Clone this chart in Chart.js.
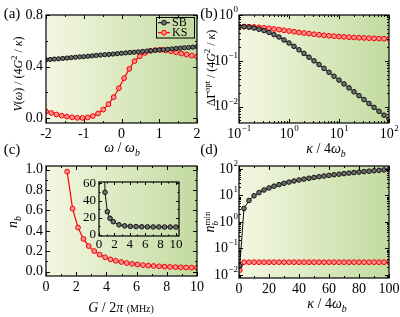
<!DOCTYPE html>
<html><head><meta charset="utf-8">
<script src="https://cdn.jsdelivr.net/npm/chart.js@4"></script>
<style>
html,body{margin:0;padding:0;background:#fff;}
#wrap{position:relative;width:400px;height:317px;overflow:hidden;font-family:'Liberation Serif','Times New Roman',serif;color:#000;}
canvas{position:absolute;left:0;top:0;}
.t{position:absolute;white-space:nowrap;transform:translate(-50%,-50%);font-size:14px;line-height:1;}
.r{transform:translate(-50%,-50%) rotate(-90deg);}
.t sub,.t sup{font-size:70%;line-height:0;}
.pl{font-size:15px;}
.ss{display:inline-block;vertical-align:middle;line-height:0.9;font-size:9px;text-align:left;}
</style></head><body><div id="wrap">
<canvas id="ca" width="400" height="317"></canvas>
<canvas id="cb" width="400" height="317"></canvas>
<canvas id="cc" width="400" height="317"></canvas>
<canvas id="ci" width="400" height="317"></canvas>
<canvas id="cd" width="400" height="317"></canvas>
<div class="t pl" style="left:12px;top:13px">(a)</div>
<div class="t pl" style="left:209px;top:13px">(b)</div>
<div class="t pl" style="left:12px;top:149px">(c)</div>
<div class="t pl" style="left:209px;top:149px">(d)</div>
<div class="t" style="left:122px;top:148px"><i>ω</i> / <i>ω</i><sub><i>b</i></sub></div>
<div class="t" style="left:326px;top:149px"><i>κ</i> / 4<i>ω</i><sub><i>b</i></sub></div>
<div class="t" style="left:121px;top:308px"><i>G</i> / 2<i>π</i> <span style="font-size:10px">(MHz)</span></div>
<div class="t" style="left:327px;top:304px"><i>κ</i> / 4<i>ω</i><sub><i>b</i></sub></div>
<div class="t r" style="left:18px;top:74px;font-size:12px"><i>V</i>(<i>ω</i>) / (4<i>G</i><sup>2</sup> / <i>κ</i>)</div>
<div class="t r" style="left:211px;top:68px;font-size:12px">ΔΓ<sup>opt</sup> / (4<i>G</i><sup>2</sup> / <i>κ</i>)</div>
<div class="t r" style="left:13px;top:222px"><i>n</i><sub><i>b</i></sub></div>
<div class="t r" style="left:211px;top:222px"><i>n</i><span class="ss">min<br><i>b</i></span></div>
</div>
<script>
// ---------- DATA ----------
// (a) V(omega)
const omegaKS = [-2,-1.862,-1.724,-1.586,-1.448,-1.310,-1.172,-1.034,-0.897,-0.759,-0.621,-0.483,-0.345,-0.207,-0.069,0.069,0.207,0.345,0.483,0.621,0.759,0.897,1.034,1.172,1.310,1.448,1.586,1.724,1.862,2];
const vKS = [0.052,0.040,0.028,0.019,0.012,0.006,0.002,0.001,0.005,0.016,0.036,0.066,0.108,0.162,0.232,0.310,0.382,0.442,0.480,0.506,0.522,0.528,0.529,0.525,0.518,0.510,0.501,0.493,0.485,0.477];
const omegaSB = [-2,-1.889,-1.778,-1.667,-1.556,-1.444,-1.333,-1.222,-1.111,-1,-0.889,-0.778,-0.667,-0.556,-0.444,-0.333,-0.222,-0.111,0,0.111,0.222,0.333,0.444,0.556,0.667,0.778,0.889,1,1.111,1.222,1.333,1.444,1.556,1.667,1.778,1.889,2];
const vSB = [0.452,0.455,0.458,0.460,0.463,0.466,0.469,0.472,0.475,0.477,0.480,0.483,0.486,0.489,0.492,0.494,0.497,0.500,0.503,0.506,0.509,0.511,0.514,0.517,0.520,0.523,0.526,0.529,0.531,0.534,0.537,0.540,0.543,0.546,0.548,0.551,0.554];
// (b) Delta Gamma^opt
const kappaB = [0.1,0.1259,0.1585,0.1995,0.2512,0.3162,0.3981,0.5012,0.631,0.7943,1,1.259,1.585,1.995,2.512,3.162,3.981,5.012,6.31,7.943,10,12.59,15.85,19.95,25.12,31.62,39.81,50.12,63.1,79.43,100];
const gSB = [0.562,0.556,0.543,0.519,0.490,0.457,0.417,0.372,0.331,0.285,0.245,0.207,0.174,0.145,0.120,0.100,0.0832,0.0684,0.0562,0.0462,0.0380,0.0313,0.0257,0.0211,0.0174,0.0143,0.0117,0.00966,0.00794,0.00653,0.00537];
const gKS = [0.562,0.560,0.555,0.547,0.537,0.525,0.511,0.495,0.480,0.463,0.447,0.432,0.417,0.404,0.392,0.380,0.370,0.361,0.352,0.345,0.339,0.333,0.328,0.324,0.319,0.316,0.312,0.309,0.306,0.304,0.302];
// (c) n_b vs G
const gC = [1.40,1.76,2.12,2.48,2.83,3.19,3.55,3.91,4.27,4.62,4.98,5.34,5.70,6.06,6.42,6.77,7.13,7.49,7.85,8.21,8.57,8.92,9.28,9.64,10.0];
const nbKS = [0.98,0.617,0.432,0.321,0.251,0.202,0.167,0.141,0.121,0.107,0.095,0.085,0.077,0.070,0.065,0.060,0.056,0.053,0.050,0.047,0.045,0.043,0.0415,0.040,0.0385];
// (c) inset
const gInset = [0.55,0.78,1.08,1.43,1.86,2.6,3.34,4.08,4.82,5.56,6.3,7.04,7.78,8.52,9.26,10.0];
const nbSB = [150,49.5,27,19.4,15.4,11.8,10.6,10.0,9.7,9.5,9.4,9.3,9.3,9.2,9.2,9.2];
// (d) n_b^min
const kappaD = [0.5,3.33,6.67,10,13.33,16.67,20,23.33,26.67,30,33.33,36.67,40,43.33,46.67,50,53.33,56.67,60,63.33,66.67,70,73.33,76.67,80,83.33,86.67,90,93.33,96.67,100];
const nminSB = [0.022,3.2,6.4,9.6,12.7,15.9,19.0,22.2,25.3,28.5,31.6,34.8,37.9,41.0,44.2,47.3,50.4,53.6,56.7,59.8,62.9,66.0,69.2,72.3,75.4,78.5,81.6,84.7,87.8,90.9,94.0];
const nminKS = [0.015,0.030,0.030,0.030,0.030,0.030,0.030,0.030,0.030,0.030,0.030,0.030,0.030,0.030,0.030,0.030,0.030,0.030,0.030,0.030,0.030,0.030,0.030,0.030,0.030,0.030,0.030,0.030,0.030,0.030,0.030];
// tick labels
const aXTicks = [-2,-1,0,1,2], aXLabels = ['-2','-1','0','1','2'];
const aYTicks = [0,0.4,0.8], aYLabels = ['0.0','0.4','0.8'];
const bXTicks = [0.1,1,10,100], bXExp = [-1,0,1,2];
const bYTicks = [0.01,0.1,1], bYExp = [-2,-1,0];
const cXTicks = [0,2,4,6,8,10], cXLabels = ['0','2','4','6','8','10'];
const cYTicks = [0,0.2,0.4,0.6,0.8,1.0], cYLabels = ['0.0','0.2','0.4','0.6','0.8','1.0'];
const iXTicks = [0,2,4,6,8,10], iXLabels = ['0','2','4','6','8','10'];
const iYTicks = [0,20,40,60], iYLabels = ['0','20','40','60'];
const dXTicks = [0,20,40,60,80,100], dXLabels = ['0','20','40','60','80','100'];
const dYTicks = [0.01,0.1,1,10,100], dYExp = [-2,-1,0,1,2];

// ---------- helpers ----------
const FONT = '"Liberation Serif","Times New Roman",serif';
function xy(xs, ys){ return xs.map((x,i)=>({x:x,y:ys[i]})); }
function logMinor(lo, hi){ const out=[]; for(let d=Math.floor(Math.log10(lo)); d<=Math.ceil(Math.log10(hi)); d++){ for(let m=2;m<=9;m++){ const v=m*Math.pow(10,d); if(v>lo && v<hi) out.push(v);} } return out; }
function drawPow(ctx, e, x, y, mode, size){
  const base='10', ex = e<0 ? '\u2212'+(-e) : ''+e;
  ctx.font = size+'px '+FONT; const wb = ctx.measureText(base).width;
  const es = Math.round(size*0.65);
  ctx.font = es+'px '+FONT; const we = ctx.measureText(ex).width;
  let x0 = mode==='right' ? x - wb - we - 0.5 : x - (wb+we)/2;
  ctx.textAlign='left'; ctx.textBaseline='middle';
  ctx.font = size+'px '+FONT; ctx.fillText(base, x0, y);
  ctx.font = es+'px '+FONT; ctx.fillText(ex, x0+wb+0.5, y-size*0.38);
}
function panelPlugin(cfg){
  return {
    id:'panel',
    beforeDatasetsDraw(chart){
      if(!cfg.bg) return;
      const a=chart.chartArea, ctx=chart.ctx;
      const g=ctx.createLinearGradient(a.left,0,a.right,0);
      g.addColorStop(0,'#f4f7e2'); g.addColorStop(1,'#c2dba0');
      ctx.save(); ctx.fillStyle=g; ctx.fillRect(a.left,a.top,a.right-a.left,a.bottom-a.top); ctx.restore();
    },
    afterDatasetsDraw(chart){
      const a=chart.chartArea, ctx=chart.ctx, xs=chart.scales.x, ys=chart.scales.y;
      ctx.save();
      ctx.strokeStyle='#000'; ctx.lineWidth=1;
      const L=cfg.tickLen||4, l=(cfg.tickLen||4)/2;
      ctx.beginPath();
      const xt=(v,len)=>{ const p=Math.round(xs.getPixelForValue(v))+0.5; ctx.moveTo(p,a.bottom); ctx.lineTo(p,a.bottom-len); ctx.moveTo(p,a.top); ctx.lineTo(p,a.top+len); };
      const yt=(v,len)=>{ const p=Math.round(ys.getPixelForValue(v))+0.5; ctx.moveTo(a.left,p); ctx.lineTo(a.left+len,p); ctx.moveTo(a.right,p); ctx.lineTo(a.right-len,p); };
      cfg.xMajor.forEach(v=>xt(v,L)); (cfg.xMinor||[]).forEach(v=>xt(v,l));
      cfg.yMajor.forEach(v=>yt(v,L)); (cfg.yMinor||[]).forEach(v=>yt(v,l));
      ctx.stroke();
      ctx.lineWidth=1.2;
      ctx.strokeRect(a.left,a.top,a.right-a.left,a.bottom-a.top);
      ctx.fillStyle='#000';
      const fs=cfg.fontSize||14;
      cfg.xMajor.forEach((v,i)=>{
        const p=xs.getPixelForValue(v), y=a.bottom+(cfg.xGap||4)+fs/2;
        if(cfg.xExp) drawPow(ctx,cfg.xExp[i],p,y,'center',fs);
        else { ctx.font=fs+'px '+FONT; ctx.textAlign='center'; ctx.textBaseline='middle'; ctx.fillText(cfg.xLabels[i],p,y); }
      });
      cfg.yMajor.forEach((v,i)=>{
        const p=ys.getPixelForValue(v), x=a.left-(cfg.yGap||3);
        if(cfg.yExp) drawPow(ctx,cfg.yExp[i],x,p,'right',fs);
        else { ctx.font=fs+'px '+FONT; ctx.textAlign='right'; ctx.textBaseline='middle'; ctx.fillText(cfg.yLabels[i],x,p); }
      });
      if(cfg.legend) cfg.legend(ctx);
      ctx.restore();
    }
  };
}
const BLK={borderColor:'#111',borderWidth:1,pointRadius:2.3,pointBorderWidth:1,pointBorderColor:'#111',pointBackgroundColor:'#707070'};
const RED={borderColor:'#ff0000',borderWidth:1.2,pointRadius:2.4,pointBorderWidth:1,pointBorderColor:'#f00000',pointBackgroundColor:'#ff9090'};
function makeChart(id, area, xScale, yScale, datasets, cfg){
  return new Chart(document.getElementById(id), {
    type:'line',
    data:{datasets:datasets},
    options:{
      responsive:false, animation:false, devicePixelRatio:1, events:[],
      layout:{padding:{left:area[0],top:area[1],right:400-area[2],bottom:317-area[3]}},
      plugins:{legend:{display:false},tooltip:{enabled:false}},
      elements:{line:{tension:0}},
      scales:{x:Object.assign({display:false},xScale), y:Object.assign({display:false},yScale)}
    },
    plugins:[panelPlugin(cfg)]
  });
}
// (a)
makeChart('ca',[46,15,197,123],{type:'linear',min:-2,max:2},{type:'linear',min:-0.038,max:0.8},
  [Object.assign({data:xy(omegaSB,vSB)},BLK,{pointRadius:2.1}), Object.assign({data:xy(omegaKS,vKS)},RED)],
  {bg:true,xMajor:aXTicks,xMinor:[-1.5,-0.5,0.5,1.5],xLabels:aXLabels,yMajor:aYTicks,yMinor:[0.2,0.6],yLabels:aYLabels,
   legend:(ctx)=>{
     ctx.lineWidth=1; ctx.strokeStyle='#000'; ctx.strokeRect(156.5,17.5,38,20.5);
     const item=(y,c,f,b,t)=>{ ctx.strokeStyle=c; ctx.lineWidth=1.2; ctx.beginPath(); ctx.moveTo(158,y); ctx.lineTo(170,y); ctx.stroke();
       ctx.beginPath(); ctx.arc(164,y,2.4,0,Math.PI*2); ctx.fillStyle=f; ctx.fill(); ctx.strokeStyle=b; ctx.lineWidth=1; ctx.stroke();
       ctx.fillStyle='#000'; ctx.font='12px '+FONT; ctx.textAlign='left'; ctx.textBaseline='middle'; ctx.fillText(t,172,y+0.5); };
     item(22.7,'#111','#707070','#111','SB'); item(32.7,'#ff0000','#ff9090','#f00000','KS');
   }});
// (b)
makeChart('cb',[239,15,389,123],{type:'logarithmic',min:0.1,max:100},{type:'logarithmic',min:0.0044,max:1},
  [Object.assign({data:xy(kappaB,gSB)},BLK), Object.assign({data:xy(kappaB,gKS)},RED)],
  {bg:true,xMajor:bXTicks,xMinor:logMinor(0.1,100),xExp:bXExp,yMajor:bYTicks,yMinor:logMinor(0.0044,1),yExp:bYExp,yGap:1});
// (c)
makeChart('cc',[46,166,197,276],{type:'linear',min:0,max:10},{type:'linear',min:-0.042,max:1.035},
  [Object.assign({data:xy(gC,nbKS)},RED)],
  {bg:true,xMajor:cXTicks,xMinor:[1,3,5,7,9],xLabels:cXLabels,yMajor:cYTicks,yMinor:[0.1,0.3,0.5,0.7,0.9],yLabels:cYLabels});
// inset
makeChart('ci',[99,182,179,236],{type:'linear',min:0,max:10.4},{type:'linear',min:-1.2,max:61.5},
  [Object.assign({data:xy(gInset,nbSB),clip:0},BLK)],
  {bg:false,xMajor:iXTicks,xMinor:[1,3,5,7,9],xLabels:iXLabels,yMajor:iYTicks,yMinor:[10,30,50],yLabels:iYLabels,fontSize:13,tickLen:3,xGap:2,yGap:3});
// (d)
makeChart('cd',[239,166,389,278],{type:'linear',min:0,max:100},{type:'logarithmic',min:0.0076,max:128},
  [Object.assign({data:xy(kappaD,nminSB)},BLK), Object.assign({data:xy(kappaD,nminKS)},RED)],
  {bg:true,xMajor:dXTicks,xMinor:[10,30,50,70,90],xLabels:dXLabels,yMajor:dYTicks,yMinor:logMinor(0.0076,128),yExp:dYExp,yGap:1});
</script>
</body></html>
